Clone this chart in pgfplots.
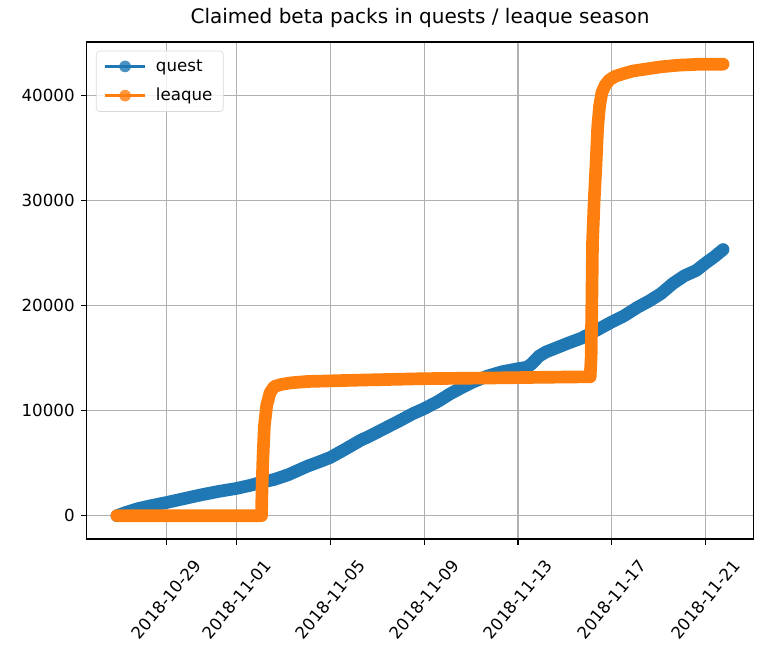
\documentclass[border=0pt]{standalone}
\usepackage{pgfplots}
\pgfplotsset{compat=1.18}
\usepackage{fontspec}
\setmainfont{DejaVu Sans}
\definecolor{mblue}{HTML}{1F77B4}
\definecolor{morange}{HTML}{FF7F0E}
\definecolor{mgrid}{HTML}{B0B0B0}
\begin{document}
\begin{tikzpicture}
\begin{axis}[
  at={(0,0)}, anchor=south west,
  width=400pt, height=298.2pt, scale only axis,
  xmin=-3.40, xmax=25.04,
  ymin=-2219, ymax=45114,
  xtick={0,3,7,11,15,19,23},
  xticklabels={2018-10-29,2018-11-01,2018-11-05,2018-11-09,2018-11-13,2018-11-17,2018-11-21},
  ytick={0,10000,20000,30000,40000},
  scaled y ticks=false,
  /pgf/number format/assume math mode=true,
  /pgf/number format/1000 sep={},
  xtick pos=bottom, ytick pos=left,
  tick align=outside,
  major tick length=3.5pt,
  tick style={black, line width=0.8pt},
  axis line style={line width=0.8pt},
  grid=major,
  major grid style={mgrid, line width=0.8pt},
  tick label style={font=\fontsize{10}{12}\selectfont},
  xticklabel style={yshift=-32.6pt, rotate=50, anchor=center},
  yticklabel style={inner sep=0pt, xshift=-3.5pt},
  title={Claimed beta packs in quests / leaque season},
  title style={font=\fontsize{12}{14}\selectfont, yshift=-1pt},
  legend style={at={(0,1)}, anchor=north west, xshift=5.6pt, yshift=-5.2pt,
    rounded corners=2pt, draw=black!15, fill=white, fill opacity=0.8, text opacity=1,
    font=\fontsize{10}{12}\selectfont, inner xsep=4.5pt, inner ysep=3pt,
    row sep=4.7pt},
  legend cell align=left,
  legend image code/.code={
    \draw[line width=1.5pt, line cap=butt] (0pt,0pt) -- (24pt,0pt);
    \path[draw=none, fill, line width=0pt] (12pt,0pt) circle (3.5pt);
    \path[draw=none, fill=none] (0pt,0pt) -- (28.5pt,0pt);
  },
]
\addplot[mblue, line width=7.6pt, line cap=round, line join=round] coordinates {
(-2.11,0) (-1.7,330) (-1.2,680) (-0.6,980) (0.0,1250) (0.7,1600) (1.45,1970)
(2.2,2300) (3.0,2600) (3.6,2900) (4.0,3150) (4.6,3450) (5.2,3900) (5.7,4400)
(6.0,4700) (6.6,5200) (7.0,5550) (7.6,6300) (8.3,7200) (8.6,7500) (9.3,8300)
(10.0,9100) (10.5,9700) (11.0,10200) (11.6,10900) (12.1,11600) (12.6,12200)
(13.1,12750) (13.7,13300) (14.3,13700) (15.0,14000) (15.4,14150) (15.6,14500)
(15.9,15200) (16.2,15600) (16.6,15950) (17.1,16400) (17.7,16900) (18.3,17600)
(19.0,18450) (19.5,19000) (20.1,19850) (20.6,20450) (21.1,21150) (21.6,22100)
(22.1,22850) (22.6,23350) (23.0,24050) (23.4,24700) (23.75,25350)
};
\addlegendentry{quest}
\addplot[morange, line width=7.6pt, line cap=round, line join=round] coordinates {
(-2.11,0) (4.06,0) (4.08,2500) (4.12,5500) (4.18,8500) (4.28,10500) (4.42,11700)
(4.6,12300) (4.9,12500) (5.3,12650) (6.0,12780) (8.0,12900) (11.0,13050)
(14.0,13120) (16.0,13180) (18.08,13230)
(18.12,15000) (18.15,20000) (18.18,26000) (18.25,30000) (18.33,33500)
(18.40,37000) (18.48,39000) (18.58,40300) (18.72,41000) (18.9,41500)
(19.15,41850) (19.5,42100) (19.9,42350) (20.5,42550) (21.1,42750)
(21.8,42900) (22.8,43000) (23.75,43000)
};
\addlegendentry{leaque}
\end{axis}
\pgfresetboundingbox
\path (-52pt,-72.6pt) rectangle (408.8pt,323.4pt);
\end{tikzpicture}
\end{document}
